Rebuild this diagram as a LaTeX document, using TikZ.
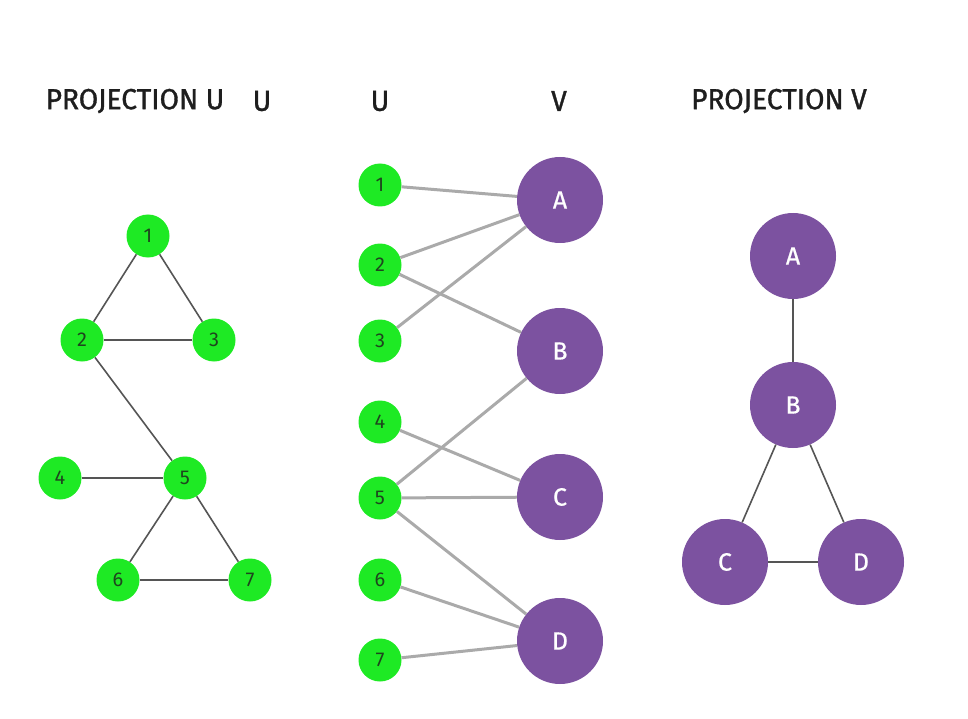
\documentclass[tikz,border=0pt]{standalone}
\usepackage{fontspec}
\setmainfont{Fira Sans}
\newfontfamily\hdrfont[FakeBold=1.2]{Fira Sans}
\newfontfamily\lblfont[FakeBold=0.6]{Fira Sans}
\definecolor{ugreen}{RGB}{30,234,36}
\definecolor{vpurple}{RGB}{124,82,160}
\definecolor{numtxt}{RGB}{30,70,30}
\definecolor{bedge}{RGB}{170,170,170}
\definecolor{pedge}{RGB}{85,85,85}
\definecolor{hdr}{RGB}{30,30,30}
\begin{document}
\begin{tikzpicture}[x=1pt,y=-1pt,
  unode/.style={circle,fill=ugreen,draw=none,minimum size=43pt,inner sep=0pt,text=numtxt,font=\fontsize{20}{20}\selectfont},
  vnode/.style={circle,fill=vpurple,draw=none,minimum size=86pt,inner sep=0pt,text=white,font=\lblfont\fontsize{25}{25}\selectfont},
  hdrtext/.style={text=hdr,font=\hdrfont\fontsize{29}{29}\selectfont,xscale=0.97,inner sep=0pt},
  bip/.style={draw=bedge,line width=3pt},
  proj/.style={draw=pedge,line width=1.6pt}]
\useasboundingbox (0,0) rectangle (968,719);
% headers
\node[hdrtext] (h1) at (135,101) {PROJECTION U};
\node[hdrtext] (h2) at (262,101) {U};
\node[hdrtext] (h3) at (380,101) {U};
\node[hdrtext] (h4) at (559,101) {V};
\node[hdrtext] (h5) at (779,101) {PROJECTION V};
% projection U
\node[unode] (p1) at (148,236) {1};
\node[unode] (p2) at (82,340) {2};
\node[unode] (p3) at (214,340) {3};
\node[unode] (p4) at (60,478) {4};
\node[unode] (p5) at (185,478) {5};
\node[unode] (p6) at (118,580) {6};
\node[unode] (p7) at (250,580) {7};
\draw[proj] (p1) -- (p2);
\draw[proj] (p1) -- (p3);
\draw[proj] (p2) -- (p3);
\draw[proj] (p2) -- (p5);
\draw[proj] (p4) -- (p5);
\draw[proj] (p5) -- (p6);
\draw[proj] (p5) -- (p7);
\draw[proj] (p6) -- (p7);
% bipartite
\node[unode] (u1) at (380,185) {1};
\node[unode] (u2) at (380,265) {2};
\node[unode] (u3) at (380,341) {3};
\node[unode] (u4) at (380,422) {4};
\node[unode] (u5) at (380,498) {5};
\node[unode] (u6) at (380,580) {6};
\node[unode] (u7) at (380,660) {7};
\node[vnode] (vA) at (560,200) {A};
\node[vnode] (vB) at (560,351) {B};
\node[vnode] (vC) at (560,497) {C};
\node[vnode] (vD) at (560,641) {D};
\draw[bip] (u1) -- (vA);
\draw[bip] (u2) -- (vA);
\draw[bip] (u3) -- (vA);
\draw[bip] (u2) -- (vB);
\draw[bip] (u5) -- (vB);
\draw[bip] (u4) -- (vC);
\draw[bip] (u5) -- (vC);
\draw[bip] (u5) -- (vD);
\draw[bip] (u6) -- (vD);
\draw[bip] (u7) -- (vD);
% projection V
\node[vnode] (qA) at (793,256) {A};
\node[vnode] (qB) at (793,405) {B};
\node[vnode] (qC) at (725,562) {C};
\node[vnode] (qD) at (861,562) {D};
\draw[proj] (qA) -- (qB);
\draw[proj] (qB) -- (qC);
\draw[proj] (qB) -- (qD);
\draw[proj] (qC) -- (qD);
\end{tikzpicture}
\end{document}
